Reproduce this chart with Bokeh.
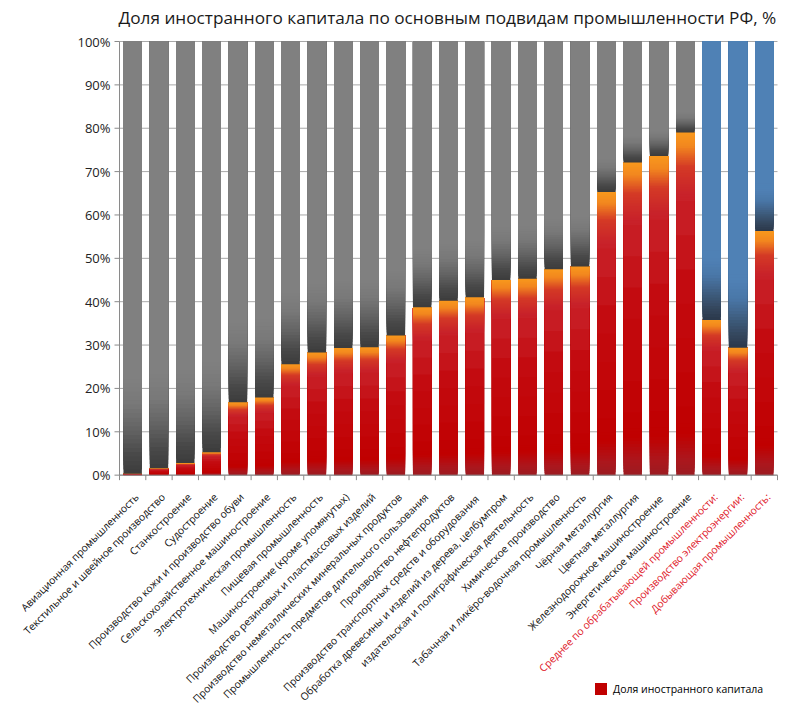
import math
from bokeh.plotting import figure
from bokeh.models import (ColumnDataSource, Range1d, Legend, LegendItem, CDSView, IndexFilter)
from bokeh.core.properties import value
from bokeh.embed import file_html
from bokeh.resources import INLINE

# ---------------- data ----------------
categories = [
    "Авиационная промышленность",
    "Текстильное и швейное производство",
    "Станкостроение",
    "Судостроение",
    "Производство кожи и производство обуви",
    "Сельскохозяйственное машиностроение",
    "Электротехническая промышленность",
    "Пищевая промышленность",
    "Машиностроение (кроме упомянутых)",
    "Производство резиновых и пластмассовых изделий",
    "Производство неметаллических минеральных продуктов",
    "Промышленность предметов длительного пользования",
    "Производство нефтепродуктов",
    "Производство транспортных  средств и оборудования",
    "Обработка древесины и изделий из дерева, целбумпром",
    "издательская и полиграфическая деятельность",
    "Химическое производство",
    "Табачная и ликёро-водочная промышленность",
    "Чёрная металлургия",
    "Цветная металлургия",
    "Железнодорожное  машиностроение",
    "Энергетическое машиностроение",
    "Среднее по обрабатывающей промышленности:",
    "Производство электроэнергии:",
    "Добывающая промышленность:",
]
foreign_share = [0.3, 1.6, 2.8, 5.3, 16.8, 17.9, 25.6, 28.3, 29.3, 29.5,
                 32.2, 38.7, 40.2, 41.0, 45.0, 45.3, 47.5, 48.1, 65.3, 72.1,
                 73.6, 79.0, 35.8, 29.4, 56.3]
is_summary = [False] * 22 + [True] * 3
y_ticks = [0, 10, 20, 30, 40, 50, 60, 70, 80, 90, 100]
y_tick_labels = ["0%", "10%", "20%", "30%", "40%", "50%", "60%", "70%", "80%", "90%", "100%"]
title_text = "Доля иностранного капитала по основным подвидам промышленности РФ, %"
legend_label = "Доля иностранного капитала"

# ---------------- gradient styling (Excel-like fills) ----------------
RED_STOPS = [(0.0, "#9c1c22"), (0.05, "#ad161c"), (0.12, "#c00000"), (0.55, "#c30b10"),
             (0.82, "#c8222a"), (0.9, "#d43a26"), (0.96, "#f2871f"), (1.0, "#f8981d")]
GRAY_STOPS = [(0.0, "#3c3c3c"), (0.04, "#474747"), (0.1, "#626262"), (0.16, "#787878"),
              (0.22, "#808080"), (1.0, "#808080")]
BLUE_STOPS = [(0.0, "#2b384b"), (0.04, "#34465c"), (0.1, "#3f5f82"), (0.16, "#4a77a8"),
              (0.22, "#4f81b5"), (1.0, "#4f81b5")]
RED_GRID = [i / 100 for i in range(16)] + [0.2, 0.3, 0.4, 0.5, 0.6, 0.7] + \
           [0.8 + i * 0.005 for i in range(40)] + [1.0]
REST_GRID = [i / 100 for i in range(26)] + [1.0]


def _rgb(h):
    h = h.lstrip("#")
    return tuple(int(h[i:i + 2], 16) for i in (0, 2, 4))


def interp(stops, f):
    for (f0, c0), (f1, c1) in zip(stops[:-1], stops[1:]):
        if f <= f1:
            t = 0 if f1 == f0 else (f - f0) / (f1 - f0)
            a, b = _rgb(c0), _rgb(c1)
            return "#%02x%02x%02x" % tuple(round(a[i] + (b[i] - a[i]) * t) for i in range(3))
    return stops[-1][1]


n = len(categories)
positions = [i + 0.5 for i in range(n)]  # centre of each category slot

xs, bottoms, tops, colors = [], [], [], []
for xpos, v, summ in zip(positions, foreign_share, is_summary):
    for f0, f1 in zip(RED_GRID[:-1], RED_GRID[1:]):          # foreign share 0..v
        xs.append(xpos); bottoms.append(v * f0); tops.append(v)
        colors.append(interp(RED_STOPS, (f0 + f1) / 2))
    rest = BLUE_STOPS if summ else GRAY_STOPS                 # remainder v..100
    for f0, f1 in zip(REST_GRID[:-1], REST_GRID[1:]):
        xs.append(xpos); bottoms.append(v + (100 - v) * f0); tops.append(100)
        colors.append(interp(rest, (f0 + f1) / 2))

bar_src = ColumnDataSource(dict(x=xs, bottom=bottoms, top=tops, color=colors))

# ---------------- geometry: one frame that also holds the rotated labels ----------------
FONT = "Open Sans"
W, H = 800, 715
TITLE_H = 32            # title panel above the frame
TOP_PAD = 10            # room above the 100 % line for its tick label
BL, BR = 119, 23        # where the plotting area sits inside the frame
PLOT_H = 433            # pixel height of 0..100 %
SX = (W - BL - BR) / n  # px per category
SY = PLOT_H / 100       # px per percent
y_end = 100 + TOP_PAD / SY
x_range = Range1d(-BL / SX, (W - BL) / SX)
y_range = Range1d(y_end - (H - TITLE_H) / SY, y_end)

p = figure(width=W, height=H, x_range=x_range, y_range=y_range,
           output_backend="svg", toolbar_location=None,
           x_axis_type=None, y_axis_type=None,
           min_border_left=0, min_border_right=0, min_border_bottom=0, min_border_top=0)
p.title.text = title_text
p.title.align = "left"
p.title.offset = 118
p.title.text_font = FONT
p.title.text_font_size = "17.2px"
p.title.text_font_style = "normal"
p.title.text_color = "#1a1a1a"
p.title.standoff = 6
p.outline_line_color = None
p.grid.grid_line_color = None

AX = "#8a8a8a"
# horizontal gridlines
p.segment(x0=[0] * len(y_ticks), x1=[n] * len(y_ticks), y0=y_ticks, y1=y_ticks,
          line_color="#a8a8a8", line_width=1)

# stacked bars
p.vbar(x="x", bottom="bottom", top="top", width=0.70, fill_color="color",
       line_color=None, source=bar_src)

# y axis: line, ticks, labels
p.segment(x0=[0], x1=[0], y0=[0], y1=[100], line_color=AX, line_width=1)
p.segment(x0=[-5 / SX] * len(y_ticks), x1=[0] * len(y_ticks), y0=y_ticks, y1=y_ticks,
          line_color=AX, line_width=1)
p.text(x=[0] * len(y_ticks), y=y_ticks, text=y_tick_labels, x_offset=-9,
       text_align="right", text_baseline="middle", text_font=value(FONT),
       text_font_size=value("13px"), text_color="#222222")

# x axis: line and ticks on the category boundaries
bounds = list(range(n + 1))
p.segment(x0=[0], x1=[n], y0=[0], y1=[0], line_color=AX, line_width=1)
p.segment(x0=bounds, x1=bounds, y0=[0] * (n + 1), y1=[-5 / SY] * (n + 1),
          line_color=AX, line_width=1)

# category labels
lab_src = ColumnDataSource(dict(
    x=positions, y=[-15 / SY] * n, name=categories,
    color=["#e0202a" if s else "#111111" for s in is_summary]))
p.text(x="x", y="y", text="name", source=lab_src, angle=math.pi / 4,
       text_align="right", text_baseline="top", x_offset=-1,
       text_font=value(FONT), text_font_size=value("10.3px"), text_color="color")

# legend (swatch uses the share series' renderer style)
leg_r = p.vbar(x="x", bottom="bottom", top="top", width=0.0, fill_color="#c00000",
               line_color=None, source=bar_src, view=CDSView(filter=IndexFilter([0])))
legend = Legend(items=[LegendItem(label=legend_label, renderers=[leg_r], index=0)],
                location=(593, 19), padding=0, margin=0, border_line_color=None,
                background_fill_alpha=0, glyph_width=15, glyph_height=15,
                label_standoff=5, label_text_font=FONT, label_text_font_size="10.5px",
                label_text_color="#000000", label_height=15)
p.add_layout(legend, "center")

open("out.html", "w").write(file_html(p, INLINE))
